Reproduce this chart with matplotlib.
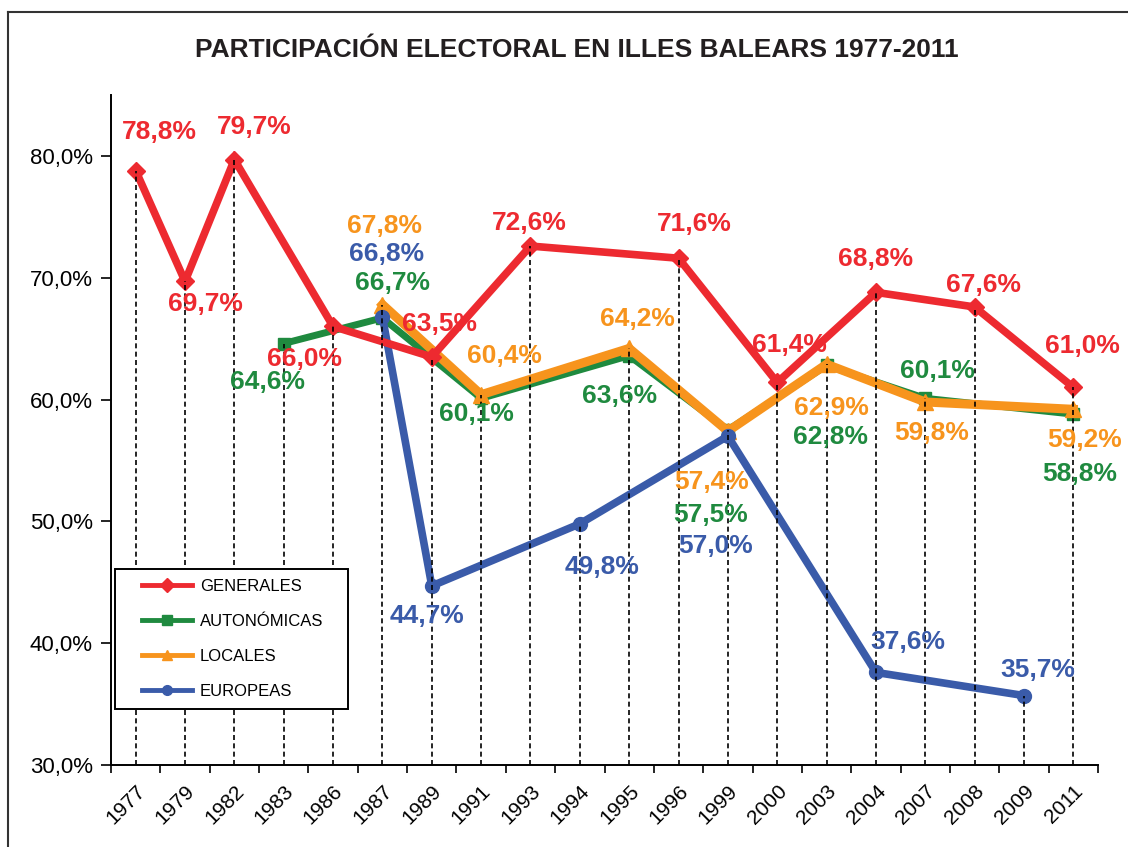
import numpy as np
import matplotlib
matplotlib.use('Agg')
import matplotlib.pyplot as plt
from matplotlib.lines import Line2D
from matplotlib.patches import Rectangle

plt.rcParams['font.family'] = ['Liberation Sans', 'DejaVu Sans']

years = ['1977', '1979', '1982', '1983', '1986', '1987', '1989', '1991', '1993', '1994',
         '1995', '1996', '1999', '2000', '2003', '2004', '2007', '2008', '2009', '2011']
nan = np.nan
generales = [78.8, 69.7, 79.7, nan, 66.0, nan, 63.5, nan, 72.6, nan,
             nan, 71.6, nan, 61.4, nan, 68.8, nan, 67.6, nan, 61.0]
autonomicas = [nan, nan, nan, 64.6, nan, 66.7, nan, 60.1, nan, nan,
               63.6, nan, 57.5, nan, 62.8, nan, 60.1, nan, nan, 58.8]
locales = [nan, nan, nan, nan, nan, 67.8, nan, 60.4, nan, nan,
           64.2, nan, 57.4, nan, 62.9, nan, 59.8, nan, nan, 59.2]
europeas = [nan, nan, nan, nan, nan, 66.8, 44.7, nan, nan, 49.8,
            nan, nan, 57.0, nan, nan, 37.6, nan, nan, 35.7, nan]

# label offsets in pixels (dx, dy) for each valid point, in order
off_gen = [(24, 39), (20, -23), (20, 33), (-29, -33), (8, 33), (-1, 23),
           (16, 34), (12, 37), (0, 33), (9, 22), (9, 41)]
off_aut = [(-16, -38), (10, 35), (-5, -16), (-10, -40), (-17, -85),
           (4, -72), (12, 27), (6, -60)]
off_loc = [(2, 79), (23, 39), (8, 29), (-16, -51), (5, -44), (6, -31), (11, -31)]
off_eur = [(4, 63), (-5, -30), (22, -43), (-12, -110), (32, 30), (14, 26)]

series = [
    ('AUTONÓMICAS', autonomicas, '#1f8a3f', 's', 8, 5.0, off_aut, 3),
    ('LOCALES', locales, '#f7941d', '^', 11, 6.5, off_loc, 4),
    ('EUROPEAS', europeas, '#3a5ba9', 'o', 10, 5.5, off_eur, 5),
    ('GENERALES', generales, '#ed2a30', 'D', 9, 5.5, off_gen, 6),
]

fig = plt.figure(figsize=(11.28, 8.47), dpi=100)
ax = fig.add_axes([111/1128, 1-765/847, 987/1128, 670/847])

x = np.arange(len(years))

# drop lines from highest value at each year down to the axis
allv = np.array([generales, autonomicas, locales, europeas], dtype=float)
tops = np.nanmax(allv, axis=0)
ax.vlines(x, 30, tops, colors='black', linestyles=(0, (3, 2)), linewidth=1.2, zorder=7)

handles = {}
for name, vals, col, mk, ms, lw, offs, z in series:
    v = np.array(vals, dtype=float)
    m = ~np.isnan(v)
    ln, = ax.plot(x[m], v[m], color=col, marker=mk, markersize=ms, linewidth=lw,
                  solid_joinstyle='miter', zorder=z, label=name)
    handles[name] = ln
    for (xi, yi), (dx, dy) in zip(zip(x[m], v[m]), offs):
        ax.annotate(f'{yi:.1f}%'.replace('.', ','), (xi, yi), xytext=(dx, dy),
                    textcoords='offset pixels', ha='center', va='center',
                    color=col, fontsize=19, fontweight='bold', zorder=8)

ax.set_xlim(-0.5, len(years) - 0.5)
ax.set_ylim(30, 85)
ax.set_yticks([30, 40, 50, 60, 70, 80])
ax.set_yticklabels([f'{t:.1f}%'.replace('.', ',') for t in [30, 40, 50, 60, 70, 80]],
                   fontsize=16)
ax.tick_params(axis='y', length=7, width=1.2, pad=6)

ax.set_xticks(x)
ax.set_xticklabels(years, rotation=45, ha='right', rotation_mode='anchor', fontsize=15)
ax.tick_params(axis='x', which='major', length=0, pad=12)
ax.set_xticks(np.arange(-0.5, len(years)), minor=True)
ax.tick_params(axis='x', which='minor', length=6, width=1.2)

for s in ['top', 'right']:
    ax.spines[s].set_visible(False)
for s in ['left', 'bottom']:
    ax.spines[s].set_linewidth(1.4)

# legend box
ax.add_patch(Rectangle((0.004, 0.084), 0.236, 0.208, transform=ax.transAxes,
                       facecolor='white', edgecolor='black', linewidth=1.4, zorder=9))
order = ['GENERALES', 'AUTONÓMICAS', 'LOCALES', 'EUROPEAS']
leg_h = [Line2D([], [], color=handles[n].get_color(), marker=handles[n].get_marker(),
                markersize=7, linewidth=3.5) for n in order]
leg = ax.legend(leg_h, order, loc='center left', bbox_to_anchor=(0.025, 0.188),
                frameon=False, fontsize=12, handlelength=3.0, handletextpad=0.45,
                labelspacing=1.2, borderaxespad=0)
leg.set_zorder(10)

fig.text(577/1128, 1-50/847, 'PARTICIPACIÓN ELECTORAL EN ILLES BALEARS 1977-2011',
         ha='center', va='center', fontsize=19, fontweight='bold', color='#231f20')

# outer frame (left and top edges visible)
fig.add_artist(Line2D([8/1128, 8/1128], [0, 1-12/847], color='#333333', linewidth=1.5,
                      transform=fig.transFigure))
fig.add_artist(Line2D([8/1128, 1], [1-12/847, 1-12/847], color='#333333', linewidth=1.5,
                      transform=fig.transFigure))

fig.savefig('out.png', dpi=100)
